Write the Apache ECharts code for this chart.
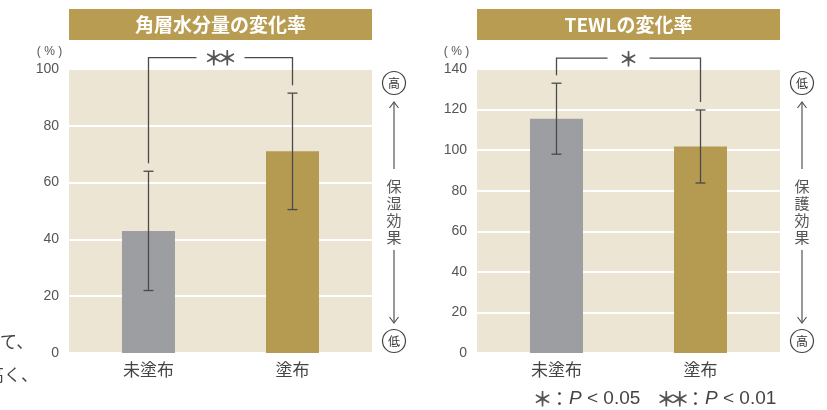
<!DOCTYPE html>
<html>
<head>
<meta charset="utf-8">
<script src="https://cdn.jsdelivr.net/npm/echarts@6/dist/echarts.min.js"></script>
<style>
  html, body { margin: 0; padding: 0; background: #fff; }
  #chart { width: 827px; height: 410px; }
</style>
</head>
<body>
<div id="chart"></div>
<script>
// データ
const categories = ['未塗布', '塗布']
const moistMean = [43, 71]       // 角層水分量の変化率 (%)
const moistErr = [21, 20.5]
const tewlMean = [115.5, 101.8]  // TEWLの変化率 (%)
const tewlErr = [17.5, 18]
const moistAxis = { max: 100, interval: 20 }
const tewlAxis = { max: 140, interval: 20 }

const JP = '"Noto Sans CJK JP", sans-serif'
const NUM = '"Liberation Sans", Arial, sans-serif'
const INK = '#4a4a4a'
const BAR_COLORS = ['#9d9ea2', '#b59a52']
const STAR_FONT = 'bold 20px ' + JP

const chart = echarts.init(document.getElementById('chart'), null, { renderer: 'canvas' })

// エラーバー
const errorItem = (params, api) => {
  const x = api.value(0), m = api.value(1), e = api.value(2)
  const hi = api.coord([x, m + e])
  const lo = api.coord([x, m - e])
  const st = { stroke: INK, lineWidth: 1.3 }
  return {
    type: 'group',
    children: [
      { type: 'line', shape: { x1: hi[0], y1: hi[1], x2: lo[0], y2: lo[1] }, style: st },
      { type: 'line', shape: { x1: hi[0] - 5, y1: hi[1], x2: hi[0] + 5, y2: hi[1] }, style: st },
      { type: 'line', shape: { x1: lo[0] - 5, y1: lo[1], x2: lo[0] + 5, y2: lo[1] }, style: st }
    ]
  }
}

// 星印（＊）をn個並べる
const stars = (cx, cy, n) => {
  const out = []
  for (let i = 0; i < n; i++) {
    out.push({
      type: 'text', x: cx + (i - (n - 1) / 2) * 13.5, y: cy,
      style: { text: '＊', fill: '#555', font: STAR_FONT, align: 'center', verticalAlign: 'middle' }
    })
  }
  return out
}

// 有意差の括弧
const bracketItem = (n, gap) => (params, api) => {
  const level = api.value(0)
  const t0 = api.value(1), t1 = api.value(2)
  const p0 = api.coord([0, t0])
  const p1 = api.coord([1, t1])
  const yb = api.coord([0, level])[1]
  const mid = (p0[0] + p1[0]) / 2
  const st = { stroke: INK, lineWidth: 1.3, fill: null }
  return {
    type: 'group',
    children: [
      { type: 'polyline', shape: { points: [[p0[0], p0[1] - 8], [p0[0], yb], [mid - gap, yb]] }, style: st },
      { type: 'polyline', shape: { points: [[mid + gap, yb], [p1[0], yb], [p1[0], p1[1] - 8]] }, style: st },
      ...stars(mid, yb + 1, n)
    ]
  }
}

const makeX = (idx) => ({
  type: 'value',
  gridIndex: idx,
  min: -0.552,
  max: 1.552,
  axisLine: { show: false },
  axisTick: { show: false },
  splitLine: { show: false },
  axisLabel: {
    customValues: [0, 1],
    formatter: v => categories[Math.round(v)] || '',
    margin: 8,
    fontSize: 17,
    fontFamily: JP,
    color: '#444'
  }
})

const makeY = (idx, ax) => ({
  type: 'value',
  gridIndex: idx,
  min: 0,
  max: ax.max,
  interval: ax.interval,
  axisLine: { show: false },
  axisTick: { show: false },
  axisLabel: { margin: 10, fontSize: 14, fontFamily: NUM, color: '#555' },
  splitLine: { lineStyle: { color: '#ffffff', width: 2 } }
})

const barData = (means) => means.map((v, i) => ({ value: [i, v], itemStyle: { color: BAR_COLORS[i] } }))
const errData = (means, errs) => means.map((v, i) => [i, v, errs[i]])

// 右側の「高・低」目盛り
const sideScale = (x, topText, bottomText, label) => {
  const st = { stroke: '#555', lineWidth: 1.2, fill: null }
  const circle = (y, t) => [
    { type: 'circle', shape: { cx: x, cy: y, r: 11.5 }, style: { fill: '#fff', stroke: '#444', lineWidth: 1.2 } },
    { type: 'text', x: x, y: y, style: { text: t, fill: '#333', font: '12px ' + JP, align: 'center', verticalAlign: 'middle' } }
  ]
  return [
    ...circle(83, topText),
    ...circle(341, bottomText),
    { type: 'line', shape: { x1: x, y1: 102, x2: x, y2: 169 }, style: st },
    { type: 'polyline', shape: { points: [[x - 4.5, 108], [x, 102], [x + 4.5, 108]] }, style: st },
    { type: 'line', shape: { x1: x, y1: 250, x2: x, y2: 323 }, style: st },
    { type: 'polyline', shape: { points: [[x - 4.5, 317], [x, 323], [x + 4.5, 317]] }, style: st },
    { type: 'text', x: x, y: 211.5, style: { text: label.split('').join('\n'), fill: '#555', font: '15px ' + JP, lineHeight: 17, align: 'center', verticalAlign: 'middle' } }
  ]
}

const titleBar = (left, text) => [
  { type: 'rect', shape: { x: left, y: 9, width: 303, height: 31 }, style: { fill: '#b89c52' } },
  { type: 'text', x: left + 151.5, y: 24.5, style: { text: text, fill: '#fff', font: 'bold 19px ' + JP, align: 'center', verticalAlign: 'middle' } }
]

const unitLabel = (cx) => ({
  type: 'text', x: cx, y: 52,
  style: { text: '( % )', fill: '#555', font: '12px ' + NUM, align: 'center', verticalAlign: 'middle' }
})

const pText = (x, tail) => ({
  type: 'text', x: x, y: 399,
  style: {
    text: '{c|：}{i|P} < ' + tail,
    fill: '#444', font: '19px ' + NUM, verticalAlign: 'middle',
    rich: {
      c: { fontSize: 19, fontFamily: JP, fill: '#444' },
      i: { fontStyle: 'italic', fontSize: 19, fontFamily: NUM, fill: '#444' }
    }
  }
})

const option = {
  animation: false,
  grid: [
    { left: 69, top: 69, width: 303, height: 284, show: true, backgroundColor: '#ece5d4', borderWidth: 0 },
    { left: 477, top: 69, width: 303, height: 284, show: true, backgroundColor: '#ece5d4', borderWidth: 0 }
  ],
  xAxis: [makeX(0), makeX(1)],
  yAxis: [makeY(0, moistAxis), makeY(1, tewlAxis)],
  series: [
    { type: 'bar', xAxisIndex: 0, yAxisIndex: 0, barWidth: 53, data: barData(moistMean) },
    { type: 'bar', xAxisIndex: 1, yAxisIndex: 1, barWidth: 53, data: barData(tewlMean) },
    { type: 'custom', xAxisIndex: 0, yAxisIndex: 0, renderItem: errorItem, data: errData(moistMean, moistErr), z: 5 },
    { type: 'custom', xAxisIndex: 1, yAxisIndex: 1, renderItem: errorItem, data: errData(tewlMean, tewlErr), z: 5 },
    {
      type: 'custom', xAxisIndex: 0, yAxisIndex: 0, clip: false, z: 5,
      renderItem: bracketItem(2, 24),
      data: [[104, moistMean[0] + moistErr[0], moistMean[1] + moistErr[1]]]
    },
    {
      type: 'custom', xAxisIndex: 1, yAxisIndex: 1, clip: false, z: 5,
      renderItem: bracketItem(1, 21),
      data: [[145.4, tewlMean[0] + tewlErr[0], tewlMean[1] + tewlErr[1]]]
    }
  ],
  graphic: [
    ...titleBar(69, '角層水分量の変化率'),
    ...titleBar(477, 'TEWLの変化率'),
    unitLabel(49.5),
    unitLabel(456.5),
    ...sideScale(394, '高', '低', '保湿効果'),
    ...sideScale(802, '低', '高', '保護効果'),
    ...stars(542.5, 399, 1),
    pText(550, '0.05'),
    ...stars(673, 399, 2),
    pText(686, '0.01'),
    { type: 'text', x: -17, y: 342, style: { text: 'して、', fill: '#444', font: '17px ' + JP, verticalAlign: 'middle' } },
    { type: 'text', x: -13, y: 375, style: { text: '高く、', fill: '#444', font: '17px ' + JP, verticalAlign: 'middle' } }
  ]
}

chart.setOption(option)
</script>
</body>
</html>
